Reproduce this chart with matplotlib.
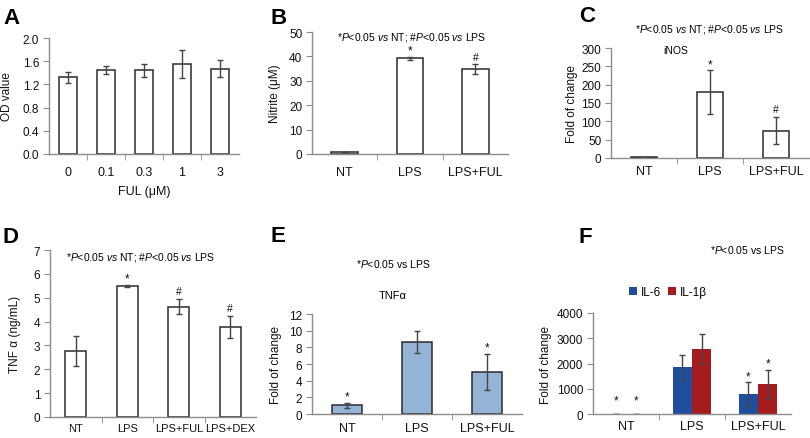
import matplotlib
matplotlib.use("Agg")
import matplotlib.pyplot as plt
import numpy as np
from matplotlib.patches import Patch

plt.rcParams['font.family'] = ['Liberation Sans', 'DejaVu Sans']
plt.rcParams['mathtext.fontset'] = 'custom'
plt.rcParams['mathtext.rm'] = 'Liberation Sans'
plt.rcParams['mathtext.it'] = 'Liberation Sans:italic'

# ---------------- data ----------------
A_cats = ['0', '0.1', '0.3', '1', '3']
A_vals = [1.32, 1.45, 1.44, 1.55, 1.47]
A_err = [0.09, 0.07, 0.11, 0.24, 0.15]

B_cats = ['NT', 'LPS', 'LPS+FUL']
B_vals = [0.8, 39.2, 34.8]
B_err = [0.15, 0.6, 1.9]
B_marks = ['', '*', '#']

C_cats = ['NT', 'LPS', 'LPS+FUL']
C_vals = [2, 180, 75]
C_err = [0.5, 59, 38]
C_marks = ['', '*', '#']

D_cats = ['NT', 'LPS', 'LPS+FUL', 'LPS+DEX']
D_vals = [2.77, 5.5, 4.62, 3.78]
D_err = [0.63, 0.05, 0.32, 0.46]
D_marks = ['', '*', '#', '#']

E_cats = ['NT', 'LPS', 'LPS+FUL']
E_vals = [1.08, 8.68, 5.05]
E_err = [0.3, 1.3, 2.2]
E_marks = ['*', '', '*']

F_cats = ['NT', 'LPS', 'LPS+FUL']
F_il6 = [3, 1850, 790]
F_il6_err = [0, 490, 460]
F_il1b = [3, 2570, 1180]
F_il1b_err = [0, 600, 580]
F_il6_marks = ['*', '', '*']
F_il1b_marks = ['*', '', '*']

W, H = 810, 439
fig = plt.figure(figsize=(W / 100, H / 100), dpi=100)

SPINE = '#8c8c8c'
EDGE = '#2b2b2b'
ERRC = '#444444'
TXT = '#111111'


def make_ax(x0, x1, ytop, ybot):
    return fig.add_axes([x0 / W, 1 - ybot / H, (x1 - x0) / W, (ybot - ytop) / H])


def style(ax, n, ylim, yticks, ticklabels, xpad, ylabel=None, ylab_x=None, x0=None, x1=None, xsize=9):
    ax.set_xlim(-0.5, n - 0.5)
    ax.set_ylim(*ylim)
    ax.set_yticks(yticks)
    for s in ['top', 'right']:
        ax.spines[s].set_visible(False)
    for s in ['left', 'bottom']:
        ax.spines[s].set_color(SPINE)
        ax.spines[s].set_linewidth(1.0)
    ax.set_xticks(range(n))
    ax.set_xticklabels(ticklabels)
    ax.set_xticks(np.arange(0.5, n - 0.5, 1), minor=True)
    ax.tick_params(axis='x', which='major', length=0, pad=xpad, labelsize=xsize, colors=TXT)
    ax.tick_params(axis='x', which='minor', length=4, color=SPINE, direction='out')
    ax.tick_params(axis='y', length=4, color=SPINE, direction='out', labelsize=8.5, pad=3, colors=TXT)
    ax.patch.set_alpha(0)
    if ylabel:
        ax.set_ylabel(ylabel, fontsize=8.5, color=TXT)
        ax.yaxis.set_label_coords((ylab_x - x0) / (x1 - x0), 0.5)


def marks(ax, xs, tops, ms, size=8.5):
    for x, t, m in zip(xs, tops, ms):
        if not m:
            continue
        if m == '*':
            ax.annotate(m, (x, t), xytext=(0, 0), textcoords='offset points',
                        ha='center', va='bottom', fontsize=size, color=TXT)
        else:
            ax.annotate(m, (x, t), xytext=(0, 2), textcoords='offset points',
                        ha='center', va='bottom', fontsize=size - 1, color=TXT)


ekw = dict(ecolor=ERRC, elinewidth=1.0, capsize=2.5, capthick=1.0)
title_str = r'*$\it{P}$<0.05 $\it{vs}$ NT; #$\it{P}$<0.05 $\it{vs}$ LPS'

# ---------------- A ----------------
x0, x1 = 49, 239
ax = make_ax(x0, x1, 39, 155)
ax.bar(range(5), A_vals, width=0.45, color='white', edgecolor=EDGE, linewidth=1.1,
       yerr=A_err, error_kw=ekw)
style(ax, 5, (0, 2.0), [0, 0.4, 0.8, 1.2, 1.6, 2.0], A_cats, 9, 'OD value', 13, x0, x1)
ax.set_yticklabels(['0.0', '0.4', '0.8', '1.2', '1.6', '2.0'])
ax.set_xlabel('FUL (μM)', fontsize=9, labelpad=5, color=TXT)

# ---------------- B ----------------
x0, x1 = 312, 508
ax = make_ax(x0, x1, 33, 155)
xs = np.arange(3)
ax.bar(xs, B_vals, width=0.41, color='white', edgecolor=EDGE, linewidth=1.1,
       yerr=B_err, error_kw=ekw)
style(ax, 3, (0, 50), [0, 10, 20, 30, 40, 50], B_cats, 9, 'Nitrite (μM)', 281, x0, x1)
marks(ax, xs, np.array(B_vals) + np.array(B_err), B_marks)
fig.text(412 / W, 1 - 38 / H, title_str, ha='center', va='center', fontsize=7.5)

# ---------------- C ----------------
x0, x1 = 611, 809
ax = make_ax(x0, x1, 49, 159)
ax.bar(xs, C_vals, width=0.4, color='white', edgecolor=EDGE, linewidth=1.1,
       yerr=C_err, error_kw=ekw)
style(ax, 3, (0, 300), [0, 50, 100, 150, 200, 250, 300], C_cats, 5, 'Fold of change', 578, x0, x1)
marks(ax, xs, np.array(C_vals) + np.array(C_err), C_marks)
fig.text(710 / W, 1 - 30 / H, title_str, ha='center', va='center', fontsize=7.5)
fig.text(676 / W, 1 - 51 / H, 'iNOS', ha='center', va='center', fontsize=7.5)

# ---------------- D ----------------
x0, x1 = 50, 256
ax = make_ax(x0, x1, 251, 418)
xs4 = np.arange(4)
ax.bar(xs4, D_vals, width=0.4, color='white', edgecolor=EDGE, linewidth=1.1,
       yerr=D_err, error_kw=ekw)
style(ax, 4, (0, 7), list(range(8)), D_cats, 4, 'TNF α (ng/mL)', 21, x0, x1, xsize=8)
marks(ax, xs4, np.array(D_vals) + np.array(D_err), D_marks)
fig.text(141 / W, 1 - 258 / H, title_str, ha='center', va='center', fontsize=7.5)

# ---------------- E ----------------
x0, x1 = 312, 522
ax = make_ax(x0, x1, 315, 415)
ax.bar(xs, E_vals, width=0.42, color='#95B3D7', edgecolor=EDGE, linewidth=1.1,
       yerr=E_err, error_kw=ekw)
style(ax, 3, (0, 12), [0, 2, 4, 6, 8, 10, 12], E_cats, 6, 'Fold of change', 282, x0, x1)
marks(ax, xs, np.array(E_vals) + np.array(E_err), E_marks)
fig.text(393 / W, 1 - 264 / H, r'*$\it{P}$<0.05 vs LPS', ha='center', va='center', fontsize=7.5)
fig.text(393 / W, 1 - 296 / H, 'TNFα', ha='center', va='center', fontsize=8)

# ---------------- F ----------------
x0, x1 = 593, 791
ax = make_ax(x0, x1, 314, 415)
bw = 0.29
ax.bar(xs - bw / 2, F_il6, width=bw, color='#1F4E9E', yerr=F_il6_err, error_kw=ekw)
ax.bar(xs + bw / 2, F_il1b, width=bw, color='#A51C1F', yerr=F_il1b_err, error_kw=ekw)
style(ax, 3, (0, 4000), [0, 1000, 2000, 3000, 4000], F_cats, 4, 'Fold of change', 552, x0, x1)
marks(ax, xs - bw / 2, np.array(F_il6) + np.array(F_il6_err) + np.array([300, 0, 0]), F_il6_marks)
marks(ax, xs + bw / 2, np.array(F_il1b) + np.array(F_il1b_err) + np.array([300, 0, 0]), F_il1b_marks)
fig.text(747 / W, 1 - 250 / H, r'*$\it{P}$<0.05 vs LPS', ha='center', va='center', fontsize=7.5)
handles = [Patch(facecolor='#1F4E9E', label='IL-6'), Patch(facecolor='#A51C1F', label='IL-1β')]
fig.legend(handles=handles, loc='center', bbox_to_anchor=(668 / W, 1 - 293 / H), ncol=2,
           frameon=False, fontsize=8.5, handlelength=0.7, handleheight=0.7,
           handletextpad=0.3, columnspacing=0.6, borderpad=0)

# ---------------- panel letters ----------------
for lab, (px, py) in zip('ABCDEF', [(3, 19), (271, 19), (579, 17), (3, 238), (270, 237), (579, 238)]):
    fig.text(px / W, 1 - py / H, lab, ha='left', va='center', fontsize=16, fontweight='bold')

fig.savefig('out.png', dpi=100)
